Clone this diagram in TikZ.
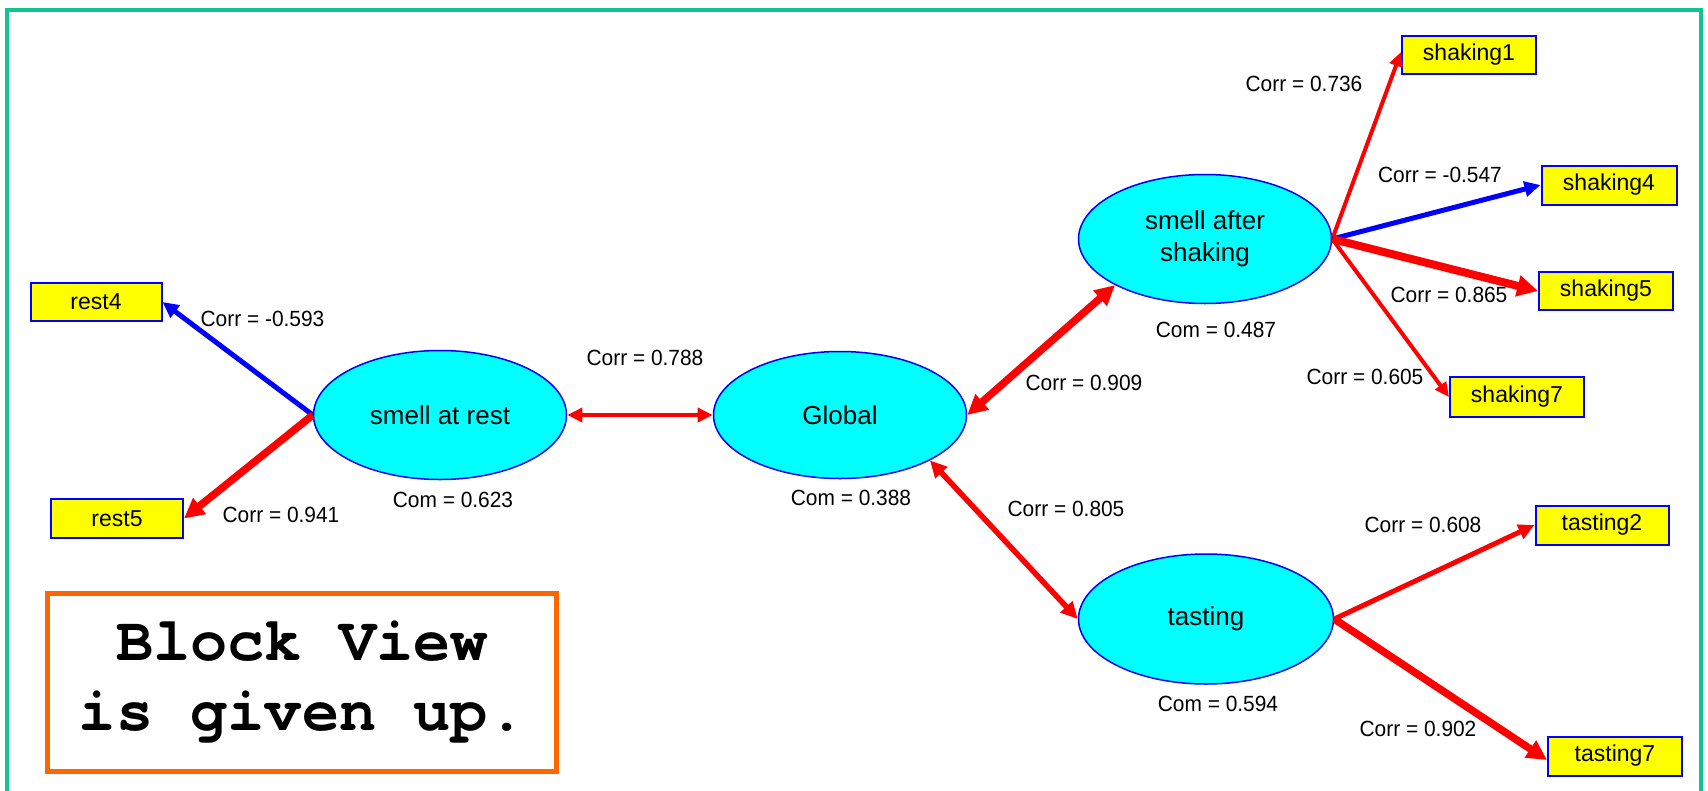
\documentclass[tikz,border=0pt]{standalone}
\usepackage{fontspec}
\setmainfont{Liberation Sans}
\newfontfamily\blockfont{texgyrecursor-bold.otf}
\usetikzlibrary{arrows.meta,shapes.geometric}

\definecolor{framegreen}{RGB}{16,196,144}
\definecolor{latentfill}{RGB}{0,255,255}
\definecolor{edgeblue}{RGB}{0,0,255}
\definecolor{boxyellow}{RGB}{255,255,0}
\definecolor{posred}{RGB}{255,0,0}
\definecolor{noteorange}{RGB}{255,102,0}

\begin{document}
\begin{tikzpicture}[x=1pt,y=-1pt,
  latent/.style={ellipse, draw=edgeblue, line width=1.5pt, fill=latentfill,
    inner sep=0pt, align=center, font=\fontsize{26}{32}\selectfont},
  manifest/.style={rectangle, draw=edgeblue, line width=2pt, fill=boxyellow,
    inner sep=0pt, minimum width=134pt, minimum height=38pt,
    font=\fontsize{23}{26}\selectfont},
  lbl/.style={inner sep=0pt, xscale=0.95, font=\fontsize{22}{24}\selectfont},
  tip/.tip={Triangle[length=8pt 1.6,width=6pt 1.8]},
  link/.style={line width=#1, -tip},
  both/.style={line width=#1, tip-tip},
]
% canvas and frame
\useasboundingbox (0,0) rectangle (1708,790);
\fill[white] (0,0) rectangle (1708,790);
\draw[framegreen, line width=3.5pt] (7,792) -- (7,10) -- (1701,10) -- (1701,792);

% latent variables
\node[latent, minimum width=253pt, minimum height=129pt] (sar)  at (440,415) {smell at rest};
\node[latent, minimum width=253pt, minimum height=127pt] (glob) at (840,415) {Global};
\node[latent, minimum width=253pt, minimum height=129pt] (sas)  at (1205,239) {smell after\\shaking};
\node[latent, minimum width=255pt, minimum height=130pt] (tast) at (1206,619) {tasting};

% manifest variables
\node[manifest, minimum width=131pt] (rest4) at (96,302) {rest4};
\node[manifest, minimum width=132pt, minimum height=39pt] (rest5) at (117,518.5) {rest5};
\node[manifest] (shaking1) at (1469,55) {shaking1};
\node[manifest, minimum width=135pt, minimum height=39pt] (shaking4) at (1609,185) {shaking4};
\node[manifest] (shaking5) at (1606,291) {shaking5};
\node[manifest, minimum height=40pt] (shaking7) at (1517,397) {shaking7};
\node[manifest, minimum width=133pt, minimum height=39pt] (tasting2) at (1602,525) {tasting2};
\node[manifest, minimum height=39pt] (tasting7) at (1615,756) {tasting7};

% loadings and structural links
\draw[link=5pt, edgeblue] (sar.west) -- (rest4.east);
\draw[link=7.5pt, posred] (sar.west) -- (rest5.east);
\draw[both=4.5pt, posred] (sar.east) -- (glob.west);
\draw[both=7.5pt, posred] (glob.east) -- (sas.south west);
\draw[both=5.5pt, posred] (glob.south east) -- (tast.west);
\draw[link=4pt, posred] (sas.east) -- ([yshift=3pt]shaking1.west);
\draw[link=5pt, edgeblue] (sas.east) -- (shaking4.west);
\draw[link=8pt, posred] (sas.east) -- (shaking5.west);
\draw[link=4pt, posred] (sas.east) -- (shaking7.west);
\draw[link=5pt, posred] (tast.east) -- (tasting2.west);
\draw[link=7.5pt, posred] (tast.east) -- ([yshift=-4pt]tasting7.west);

% coefficients
\node[lbl] (l1)  at (262.5,319)  {Corr = -0.593};
\node[lbl] (l2)  at (281,515)    {Corr = 0.941};
\node[lbl] (c1)  at (453,500)    {Com = 0.623};
\node[lbl] (l3)  at (645,358)    {Corr = 0.788};
\node[lbl] (c2)  at (851,498)    {Com = 0.388};
\node[lbl] (l4)  at (1084,383)   {Corr = 0.909};
\node[lbl] (l5)  at (1066,509)   {Corr = 0.805};
\node[lbl] (l6)  at (1304,84)    {Corr = 0.736};
\node[lbl] (l7)  at (1440,175)   {Corr = -0.547};
\node[lbl] (l8)  at (1449,295)   {Corr = 0.865};
\node[lbl] (c3)  at (1216,330)   {Com = 0.487};
\node[lbl] (l9)  at (1365,377)   {Corr = 0.605};
\node[lbl] (l10) at (1423,525)   {Corr = 0.608};
\node[lbl] (c4)  at (1218,704)   {Com = 0.594};
\node[lbl] (l11) at (1418,729)   {Corr = 0.902};

% note
\node[draw=noteorange, line width=5.5pt, fill=white, minimum width=509pt,
  minimum height=178pt, align=center,
  font=\blockfont\fontsize{62}{70}\selectfont] (note) at (302,682.5)
  {Block View\\is given up.};
\end{tikzpicture}
\end{document}
